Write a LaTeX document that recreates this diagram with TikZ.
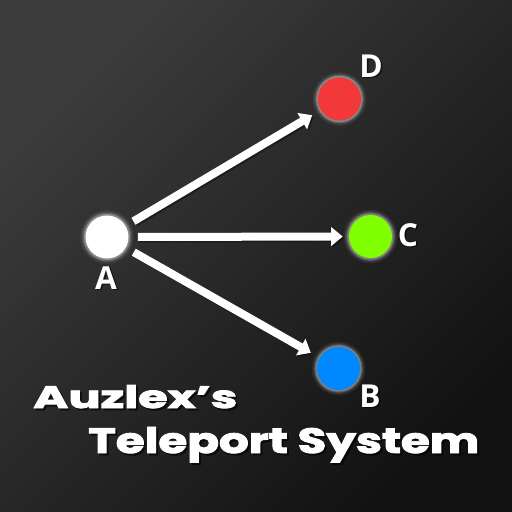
\documentclass[tikz,border=0pt]{standalone}
\usepackage{fontspec}
\setmainfont{Open Sans}
\newfontfamily\titlefont[BoldFeatures={FakeBold=2.5}]{Poppins}
\usetikzlibrary{arrows.meta}
\definecolor{bgTL}{HTML}{3C3C3C}
\definecolor{bgBR}{HTML}{121212}
\definecolor{dotRed}{HTML}{F23838}
\definecolor{dotGreen}{HTML}{80FF00}
\definecolor{dotBlue}{HTML}{0088FF}
\newcommand{\glowat}[1]{%
  \fill[white,opacity=0.05] (#1) circle[radius=27];
  \fill[white,opacity=0.08] (#1) circle[radius=25.5];
  \fill[white,opacity=0.14] (#1) circle[radius=24.3];
  \fill[white,opacity=0.25] (#1) circle[radius=23.2];}
\begin{document}
\begin{tikzpicture}[x=0.25mm,y=-0.25mm,
  dot/.style={circle,inner sep=0pt,minimum size=10.75mm,draw=none},
  conn/.style={draw=white,line width=2mm,-{Triangle[length=2.9mm,width=4.6mm]}},
  connshadow/.style={draw=black,opacity=0.35,line width=2mm,-{Triangle[length=2.9mm,width=4.6mm]}},
  lbl/.style={text=white,font=\bfseries\fontsize{22.5}{22.5}\selectfont,inner sep=0pt},
  lblshadow/.style={text=black,opacity=0.6,font=\bfseries\fontsize{22.5}{22.5}\selectfont,inner sep=0pt},
  ttl/.style={text=white,inner sep=0pt,anchor=base west},
  ttlshadow/.style={text=black,opacity=0.55,inner sep=0pt,anchor=base west}]
\useasboundingbox (0,0) rectangle (512,512);
\shade[shading=axis,top color=bgTL,bottom color=bgBR,shading angle=45] (0,0) rectangle (512,512);
% centres
\coordinate (pA) at (107,237);
\coordinate (pD) at (339.5,99);
\coordinate (pC) at (370.5,236.5);
\coordinate (pB) at (338.5,368.5);
\glowat{pA}\glowat{pD}\glowat{pC}\glowat{pB}
\node[dot,fill=white] (A) at (pA) {};
\node[dot,fill=dotRed] (D) at (pD) {};
\node[dot,fill=dotGreen] (C) at (pC) {};
\node[dot,fill=dotBlue] (B) at (pB) {};
% connector shadows
\draw[connshadow,shorten <=2.25mm,shorten >=2.5mm,transform canvas={shift={(0.4mm,-0.4mm)}}] (A) -- (D);
\draw[connshadow,shorten <=2.25mm,shorten >=1.5mm,transform canvas={shift={(0.4mm,-0.4mm)}}] (A) -- (C);
\draw[connshadow,shorten <=2.25mm,shorten >=2.5mm,transform canvas={shift={(0.4mm,-0.4mm)}}] (A) -- (B);
% connectors
\draw[conn,shorten <=2.25mm,shorten >=2.5mm] (A) -- (D);
\draw[conn,shorten <=2.25mm,shorten >=1.5mm] (A) -- (C);
\draw[conn,shorten <=2.25mm,shorten >=2.5mm] (A) -- (B);
% labels
\node[lblshadow] (shA) at (107.5,279.5) {A};
\node[lblshadow] (shD) at (372.5,67.5) {D};
\node[lblshadow] (shC) at (409.5,236.5) {C};
\node[lblshadow] (shB) at (371.5,397.5) {B};
\node[lbl] (lA) at (106,278) {A};
\node[lbl] (lD) at (371,66) {D};
\node[lbl] (lC) at (408,235) {C};
\node[lbl] (lB) at (370,396) {B};
% title
\node[ttlshadow] (sT1) at (35,410) {\resizebox{51mm}{5.75mm}{\titlefont\bfseries Auzlex’s}};
\node[ttlshadow] (sT2) at (90,455) {\resizebox{97.75mm}{6.5mm}{\titlefont\bfseries Teleport System}};
\node[ttl] (T1) at (33,408) {\resizebox{51mm}{5.75mm}{\titlefont\bfseries Auzlex’s}};
\node[ttl] (T2) at (88,453) {\resizebox{97.75mm}{6.5mm}{\titlefont\bfseries Teleport System}};
\end{tikzpicture}
\end{document}
